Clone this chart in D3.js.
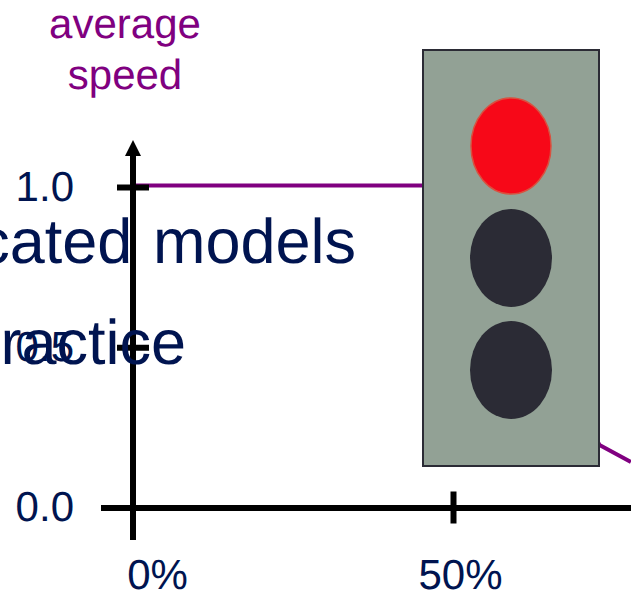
<!DOCTYPE html>
<html>
<head>
<meta charset="utf-8">
<script src="https://cdn.jsdelivr.net/npm/d3@7"></script>
<style>
    html, body { margin: 0; padding: 0; background: #fff; overflow: hidden; }
    svg { display: block; }
    text { font-family: "Liberation Sans", Arial, sans-serif; text-rendering: geometricPrecision; }
</style>
</head>
<body>
<div id="chart"></div>
<script>
// values
const utilisation = [0, 50, 72.9, 77.8]
const averageSpeed = [1.005, 1.005, 0.195, 0.142]
const xTicks = [0, 50]
const yTicks = [0, 0.5, 1]
const xTickLabels = ["0%", "50%"]
const yTickLabels = ["0.0", "0.5", "1.0"]
const yTitle = ["average", "speed"]
const slideText = ["cated models", "ractice"]

const width = 631
const height = 595
const navy = "#001450"
const purple = "#800080"
const dark = "#2b2b35"

const x = d3.scaleLinear().domain([0, 100]).range([133, 773])
const y = d3.scaleLinear().domain([0, 1]).range([507.5, 187])

const svg = d3.select("#chart").append("svg")
    .attr("width", width)
    .attr("height", height)
    .attr("viewBox", [0, 0, width, height])

// y axis title
svg.append("g")
    .attr("fill", purple)
    .attr("font-size", 42)
    .attr("text-anchor", "middle")
    .selectAll("text")
    .data(yTitle)
    .join("text")
    .attr("x", 125)
    .attr("y", (d, i) => 38 + i * 51)
    .text(d => d)

// speed line
const line = d3.line()
    .x((d, i) => x(utilisation[i]))
    .y(d => y(d))

svg.append("path")
    .attr("fill", "none")
    .attr("stroke", purple)
    .attr("stroke-width", 4)
    .attr("d", line(averageSpeed))

// axes
const xAxis = d3.axisBottom(x)
    .tickValues(xTicks)
    .tickFormat((d, i) => xTickLabels[i])
    .tickSize(16)
    .tickPadding(36)
const yAxis = d3.axisLeft(y)
    .tickValues(yTicks)
    .tickFormat((d, i) => yTickLabels[i])
    .tickSize(16)
    .tickPadding(43)

svg.append("g")
    .attr("transform", `translate(0,${y(0)})`)
    .call(xAxis)
    .call(g => g.select(".domain").remove())
    .call(g => g.selectAll(".tick line")
        .attr("y1", -16)
        .attr("stroke", "#000")
        .attr("stroke-width", 6)
        .attr("opacity", d => d === 0 ? 0 : 1))
    .call(g => g.selectAll(".tick text")
        .attr("font-size", 42)
        .attr("fill", navy)
        .attr("font-family", null)
        .attr("dx", d => d === 0 ? 24 : 7))
    .call(g => g.append("line")
        .attr("x1", 101)
        .attr("x2", width)
        .attr("y1", 0.5)
        .attr("y2", 0.5)
        .attr("stroke", "#000")
        .attr("stroke-width", 6))

svg.append("g")
    .attr("transform", `translate(${x(0)},0)`)
    .call(yAxis)
    .call(g => g.select(".domain").remove())
    .call(g => g.selectAll(".tick line")
        .attr("x2", -16)
        .attr("x1", 16)
        .attr("stroke", "#000")
        .attr("stroke-width", 6)
        .attr("opacity", d => d === 0 ? 0 : 1))
    .call(g => g.selectAll(".tick text")
        .attr("font-size", 42)
        .attr("fill", navy)
        .attr("font-family", null))
    .call(g => g.append("line")
        .attr("y1", 540)
        .attr("y2", 152)
        .attr("stroke", "#000")
        .attr("stroke-width", 6))
    .call(g => g.append("path")
        .attr("d", "M-8,156L0,140L8,156Z")
        .attr("fill", "#000"))

// leftover slide text running off the left edge
svg.append("g")
    .attr("fill", navy)
    .attr("font-size", 63)
    .attr("text-anchor", "end")
    .attr("word-spacing", 3)
    .selectAll("text")
    .data(slideText)
    .join("text")
    .attr("x", (d, i) => i === 0 ? 356 : 186)
    .attr("y", (d, i) => i === 0 ? 263 : 364)
    .text(d => d)

// traffic light
const signal = svg.append("g")
signal.append("rect")
    .attr("x", 423)
    .attr("y", 50)
    .attr("width", 176)
    .attr("height", 416)
    .attr("fill", "#92a195")
    .attr("stroke", dark)
    .attr("stroke-width", 2)
signal.append("ellipse")
    .attr("cx", 511)
    .attr("cy", 146)
    .attr("rx", 40)
    .attr("ry", 48)
    .attr("fill", "#f70818")
    .attr("stroke", "#d9503f")
    .attr("stroke-width", 1.5)
signal.selectAll(".off")
    .data([258, 370])
    .join("ellipse")
    .attr("class", "off")
    .attr("cx", 511)
    .attr("cy", d => d)
    .attr("rx", 41)
    .attr("ry", 49)
    .attr("fill", dark)
</script>
</body>
</html>
